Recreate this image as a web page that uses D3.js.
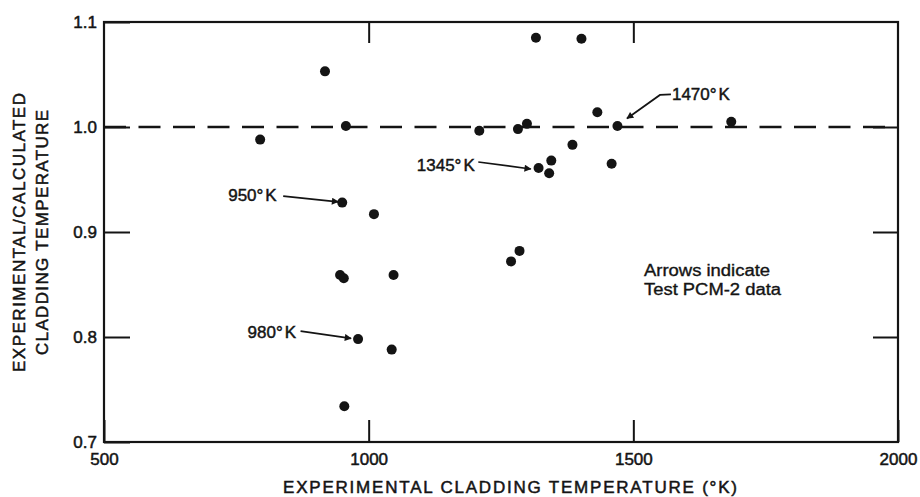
<!DOCTYPE html>
<html>
<head>
<meta charset="utf-8">
<script src="https://cdn.jsdelivr.net/npm/d3@7"></script>
<style>
  html, body { margin: 0; padding: 0; background: #fff; }
  svg { display: block; }
  text { font-family: "Liberation Sans", Arial, Helvetica, sans-serif; fill: #141414; }
</style>
</head>
<body>
<svg id="chart" width="920" height="497"></svg>
<script>
// Cladding temperature test points: experimental temperature (K) and experimental/calculated ratio
const tempK = [795, 917.5, 957, 950, 1010, 946, 953, 1047, 980, 1043.5, 954,
               1209, 1282, 1299, 1316, 1402, 1432, 1470, 1385, 1459,
               1321, 1345, 1341, 1269, 1285, 1685];
const ratio = [0.988, 1.053, 1.001, 0.928, 0.917, 0.859, 0.856, 0.859, 0.798, 0.788, 0.734,
               0.9965, 0.998, 1.003, 1.085, 1.084, 1.014, 1.001, 0.983, 0.965,
               0.961, 0.968, 0.956, 0.872, 0.882, 1.005];

// Test PCM-2 points called out with arrows (index into the arrays above)
const callIdx = [3, 8, 21, 17];
const callText = ["950", "980", "1345", "1470"];

// Axis ticks
const xTicks = [500, 1000, 1500, 2000];
const yTicks = [0.7, 0.8, 0.9, 1.0, 1.1];
const xTickLabels = ["500", "1000", "1500", "2000"];
const yTickLabels = ["0.7", "0.8", "0.9", "1.0", "1.1"];
const refRatio = 1.0;

const svg = d3.select("#chart");
const plotL = 104, plotR = 898, plotT = 22, plotB = 442;
const ink = "#141414";

const x = d3.scaleLinear().domain([500, 2000]).range([plotL, plotR]);
const y = d3.scaleLinear().domain([0.7, 1.1]).range([plotB, plotT]);

// Inward tick marks on all four sides
function styleAxis(g) {
  g.select(".domain").remove();
  g.selectAll(".tick line").attr("stroke", ink).attr("stroke-width", 2);
  g.selectAll(".tick text").attr("fill", ink).style("font-size", "17px")
    .attr("stroke", ink).attr("stroke-width", 0.5);
}

svg.append("g").attr("transform", `translate(0,${plotB})`)
  .call(d3.axisBottom(x).tickValues(xTicks).tickSize(-22).tickPadding(11)
        .tickFormat((d, i) => xTickLabels[i]))
  .call(styleAxis);

svg.append("g").attr("transform", `translate(${plotL},0)`)
  .call(d3.axisLeft(y).tickValues(yTicks).tickSize(-26).tickPadding(7)
        .tickFormat((d, i) => yTickLabels[i]))
  .call(styleAxis);

svg.append("g").attr("transform", `translate(0,${plotT})`)
  .call(d3.axisTop(x).tickValues(xTicks.slice(1, -1)).tickSize(-21).tickFormat(""))
  .call(styleAxis);

svg.append("g").attr("transform", `translate(${plotR},0)`)
  .call(d3.axisRight(y).tickValues(yTicks.slice(1, -1)).tickSize(-25).tickFormat(""))
  .call(styleAxis);

// Plot frame
svg.append("rect")
  .attr("x", plotL).attr("y", plotT)
  .attr("width", plotR - plotL).attr("height", plotB - plotT)
  .attr("fill", "none").attr("stroke", ink).attr("stroke-width", 2.2);

// Reference line at ratio 1.0
svg.append("line")
  .attr("x1", plotL).attr("x2", plotR)
  .attr("y1", y(refRatio)).attr("y2", y(refRatio))
  .attr("stroke", ink).attr("stroke-width", 2.6)
  .attr("stroke-dasharray", "22,12.5");

// Data points
svg.append("g").selectAll("circle")
  .data(tempK.map((t, i) => ({ t, r: ratio[i] })))
  .join("circle")
  .attr("cx", d => x(d.t))
  .attr("cy", d => y(d.r))
  .attr("r", 5)
  .attr("fill", ink);

// Arrow heads
svg.append("defs").append("marker")
  .attr("id", "head")
  .attr("viewBox", "0 0 10 10")
  .attr("refX", 9).attr("refY", 5)
  .attr("markerWidth", 11).attr("markerHeight", 7)
  .attr("markerUnits", "userSpaceOnUse")
  .attr("orient", "auto")
  .append("path").attr("d", "M0,0 L10,5 L0,10 Z").attr("fill", ink);

// Callout placement relative to the marked point: label origin, then arrow path ending at the tip
const callLayout = [
  { label: [-114, -1.5], path: [[-59, -6.5], [-4, -0.8]] },
  { label: [-110.5, -1.5], path: [[-57.5, -8], [-7, -0.8]] },
  { label: [-134.5, 10.5], path: [[-73, 1.4], [-20.5, 8.4]] },
  { label: [54.5, -26], path: [[53.5, -31.5], [42.5, -31], [9.5, -7.5]] }
];

const calls = svg.append("g");
callIdx.forEach((idx, k) => {
  const px = x(tempK[idx]), py = y(ratio[idx]);
  const lay = callLayout[k];
  const t = calls.append("text")
    .attr("x", px + lay.label[0]).attr("y", py + lay.label[1])
    .style("font-size", "17px")
    .attr("stroke", ink).attr("stroke-width", 0.45);
  t.append("tspan").text(callText[k] + "°");
  t.append("tspan").attr("dx", 2).text("K");
  calls.append("path")
    .attr("d", d3.line()(lay.path.map(p => [px + p[0], py + p[1]])))
    .attr("fill", "none").attr("stroke", ink).attr("stroke-width", 1.7)
    .attr("marker-end", "url(#head)");
});

// Note
const noteLines = ["Arrows indicate", "Test PCM-2 data"];
const noteWidths = [126, 137];
svg.append("g").selectAll("text")
  .data(noteLines)
  .join("text")
  .attr("x", 644)
  .attr("y", (d, i) => 276 + i * 19)
  .style("font-size", "16px")
  .attr("textLength", (d, i) => noteWidths[i])
  .attr("lengthAdjust", "spacingAndGlyphs")
  .attr("stroke", ink).attr("stroke-width", 0.35)
  .text(d => d);

// Axis titles
svg.append("text")
  .attr("x", 510).attr("y", 493)
  .attr("text-anchor", "middle")
  .style("font-size", "17px")
  .attr("textLength", 454).attr("lengthAdjust", "spacing")
  .attr("stroke", ink).attr("stroke-width", 0.5)
  .text("EXPERIMENTAL CLADDING TEMPERATURE (°K)");

const yTitle = ["EXPERIMENTAL/CALCULATED", "CLADDING TEMPERATURE"];
const yTitleWidths = [279, 245];
const yTitleBase = [25, 48];
yTitle.forEach((s, i) => {
  svg.append("text")
    .attr("transform", `translate(${yTitleBase[i]},${232.5}) rotate(-90)`)
    .attr("text-anchor", "middle")
    .style("font-size", "17px")
    .attr("textLength", yTitleWidths[i]).attr("lengthAdjust", "spacing")
    .attr("stroke", ink).attr("stroke-width", 0.5)
    .text(s);
});
</script>
</body>
</html>
